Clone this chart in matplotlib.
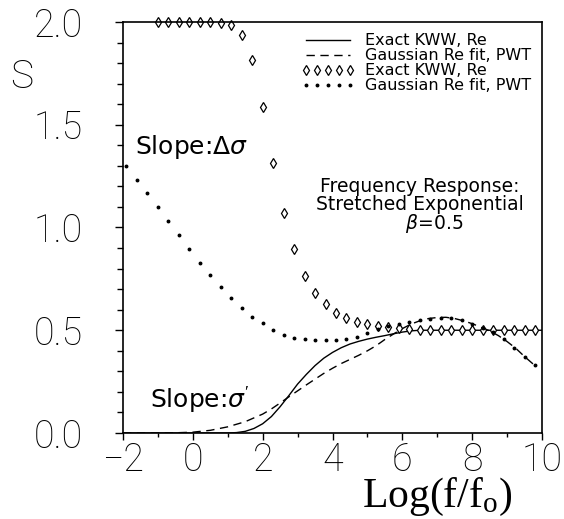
import matplotlib
matplotlib.use("Agg")
import matplotlib.pyplot as plt
from matplotlib.ticker import MultipleLocator, FixedLocator

plt.rcParams['mathtext.fontset'] = 'custom'
plt.rcParams['mathtext.rm'] = 'Liberation Serif'
plt.rcParams['mathtext.it'] = 'DejaVu Sans:italic'

# ---- data ----
# Exact KWW, Re (slope sigma', solid)
kww_sig_x = [-2.0, 0.0, 1.0, 1.25, 1.5, 1.75, 2.0, 2.25, 2.5, 2.75, 3.0, 3.25, 3.5, 3.75,
             4.0, 4.25, 4.5, 4.75, 5.0, 5.25, 5.5, 5.75, 6.0, 6.25, 6.5, 8.0, 10.0]
kww_sig_y = [0.0, 0.0, 0.0, 0.002, 0.008, 0.022, 0.045, 0.08, 0.128, 0.182, 0.238, 0.285,
             0.328, 0.364, 0.392, 0.415, 0.433, 0.446, 0.457, 0.466, 0.474, 0.483, 0.491,
             0.497, 0.5, 0.5, 0.5]

# Gaussian Re fit, PWT (slope sigma', dashed)
gau_sig_x = [-2.0, -1.0, -0.5, 0.0, 0.5, 1.0, 1.5, 2.0, 2.25, 2.5, 2.75, 3.0, 3.25, 3.5,
             3.75, 4.0, 4.25, 4.5, 4.75, 5.0, 5.25, 5.5, 5.75, 6.0, 6.25, 6.5, 6.75, 7.0,
             7.25, 7.5, 7.75, 8.0, 8.25, 8.5, 8.75, 9.0, 9.25, 9.5, 9.75]
gau_sig_y = [0.0, 0.0, 0.001, 0.004, 0.013, 0.03, 0.055, 0.092, 0.117, 0.146, 0.176, 0.205,
             0.234, 0.262, 0.29, 0.315, 0.338, 0.358, 0.378, 0.4, 0.425, 0.455, 0.482, 0.508,
             0.53, 0.546, 0.557, 0.562, 0.563, 0.557, 0.546, 0.532, 0.515, 0.497, 0.474,
             0.445, 0.412, 0.372, 0.335]

# Exact KWW, Re (slope delta-sigma, diamonds)
kww_dsig_x = [-1.0, -0.7, -0.4, -0.1, 0.2, 0.5, 0.8, 1.1, 1.4, 1.7, 2.0, 2.3, 2.6, 2.9,
              3.2, 3.5, 3.8, 4.1, 4.4, 4.7, 5.0, 5.3, 5.6, 5.9, 6.2, 6.5, 6.8, 7.1, 7.4,
              7.7, 8.0, 8.3, 8.6, 8.9, 9.2, 9.5, 9.8]
kww_dsig_y = [2.0, 2.0, 2.0, 2.0, 2.0, 2.0, 1.996, 1.984, 1.938, 1.815, 1.586, 1.312, 1.069,
              0.894, 0.766, 0.683, 0.628, 0.586, 0.558, 0.542, 0.530, 0.521, 0.514, 0.509,
              0.505, 0.502, 0.5, 0.5, 0.5, 0.5, 0.5, 0.5, 0.5, 0.5, 0.5, 0.5, 0.5]

# Gaussian Re fit, PWT (slope delta-sigma, dots)
gau_dsig_x = [-1.9, -1.6, -1.3, -1.0, -0.7, -0.4, -0.1, 0.2, 0.5, 0.8, 1.1, 1.4, 1.7, 2.0,
              2.3, 2.6, 2.9, 3.2, 3.5, 3.8, 4.1, 4.4, 4.7, 5.0, 5.3, 5.6, 5.9, 6.2, 6.5,
              6.8, 7.1, 7.4, 7.7, 8.0, 8.3, 8.6, 8.9, 9.2, 9.5, 9.8]
gau_dsig_y = [1.30, 1.231, 1.169, 1.101, 1.032, 0.962, 0.897, 0.826, 0.769, 0.712, 0.655,
              0.607, 0.566, 0.534, 0.503, 0.479, 0.464, 0.456, 0.452, 0.451, 0.453, 0.459,
              0.468, 0.485, 0.505, 0.52, 0.532, 0.541, 0.55, 0.557, 0.562, 0.558, 0.548,
              0.532, 0.512, 0.49, 0.458, 0.412, 0.371, 0.33]

labels = ["Exact KWW, Re", "Gaussian Re fit, PWT", "Exact KWW, Re", "Gaussian Re fit, PWT"]
xticks = [-2, 0, 2, 4, 6, 8, 10]
yticks = [0.0, 0.5, 1.0, 1.5, 2.0]

# ---- figure ----
fig = plt.figure(figsize=(5.64, 5.19), dpi=100)
ax = fig.add_axes([123/564, 86/519, (542-123)/564, (433-22)/519])

ax.plot(kww_sig_x, kww_sig_y, color='black', lw=1.0, label=labels[0])
ax.plot(gau_sig_x, gau_sig_y, color='black', lw=1.0, ls=(0, (6, 4)), label=labels[1])
ax.plot(kww_dsig_x, kww_dsig_y, ls='none', marker='d', ms=4.6, mfc='white', mec='black',
        mew=0.9, label=labels[2], clip_on=False)
ax.plot(gau_dsig_x, gau_dsig_y, ls='none', marker='o', ms=1.8, mfc='black', mec='black',
        label=labels[3])

ax.set_xlim(-2, 10)
ax.set_ylim(0, 2.0)
ax.xaxis.set_major_locator(FixedLocator(xticks))
ax.xaxis.set_minor_locator(MultipleLocator(1))
ax.yaxis.set_major_locator(FixedLocator(yticks))
ax.yaxis.set_minor_locator(MultipleLocator(0.1))
ax.set_xticklabels([("\u2212" + str(-t)) if t < 0 else str(t) for t in xticks])
ax.set_yticklabels(["%.1f" % t for t in yticks])

for lab in ax.get_xticklabels() + ax.get_yticklabels():
    lab.set_fontfamily('Roboto')
    lab.set_fontsize(27)
    lab.set_fontweight('light')

ax.tick_params(axis='both', which='both', top=False, right=False, direction='out',
               width=1.0, color='black')
ax.tick_params(axis='x', which='major', length=5, pad=1)
ax.tick_params(axis='x', which='minor', length=3)
ax.tick_params(axis='y', which='major', length=6, pad=23)
ax.tick_params(axis='y', which='minor', length=4)
for s in ax.spines.values():
    s.set_linewidth(1.2)

fig.text(22/564, 1 - 77/519, "S", fontsize=28, fontweight='light',
         family='Roboto', ha='center', va='center')
ax.set_xlabel(r'$\mathrm{Log(f/f_o)}$', fontsize=30)
ax.xaxis.set_label_coords(0.749, -0.105)

ax.text(-1.66, 1.358, "Slope:\u0394$\\sigma$", fontsize=18, ha='left', va='baseline')
ax.text(-1.23, 0.12, "Slope:$\\sigma'$", fontsize=18, ha='left', va='baseline')

ax.text(6.5, 1.246, "Frequency Response:\nStretched Exponential\n     $\\beta$=0.5",
        fontsize=13.5, ha='center', va='top', multialignment='center', linespacing=0.92)

leg = ax.legend(loc='upper right', bbox_to_anchor=(1.0, 1.0), frameon=False,
                fontsize=11.5, numpoints=5, handlelength=3.4, handletextpad=0.6,
                labelspacing=0.0, borderaxespad=0.5, borderpad=0.2)

fig.savefig("out.png", dpi=100)
